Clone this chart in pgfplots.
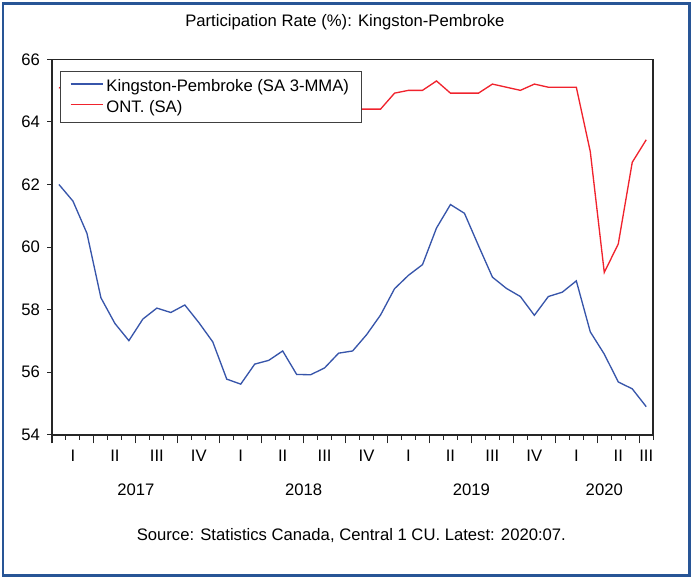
\documentclass[border=0pt]{standalone}
\usepackage{fontspec}
\setmainfont{Liberation Sans}
\usepackage{pgfplots}
\pgfplotsset{compat=1.18}
\pgfplotsset{
    kplegend/.style={
        legend image code/.code={\draw[##1] (0pt,1.8pt) -- (24pt,1.8pt);},
    },
}
\definecolor{kpblue}{RGB}{55,85,170}
\definecolor{ontred}{RGB}{240,35,45}
\definecolor{framebl}{RGB}{40,85,150}
\newcommand\pxf{\fontsize{12.5}{14.5}\selectfont}

% month index 0 = 2017:01 ... 42 = 2020:07
\pgfplotstableread{
m   kp
0   62.00
1   61.47
2   60.44
3   58.38
4   57.56
5   57.01
6   57.70
7   58.05
8   57.91
9   58.15
10  57.59
11  56.97
12  55.78
13  55.62
14  56.26
15  56.38
16  56.68
17  55.93
18  55.92
19  56.14
20  56.61
21  56.68
22  57.20
23  57.83
24  58.67
25  59.10
26  59.44
27  60.61
28  61.36
29  61.08
30  60.05
31  59.04
32  58.68
33  58.42
34  57.82
35  58.42
36  58.56
37  58.92
38  57.29
39  56.58
40  55.69
41  55.47
42  54.90
}\kptab

% months 1-21 sit behind the legend; rough estimates
\pgfplotstableread{
m   ont
0   65.10
1   64.90
2   64.90
3   65.00
4   64.90
5   64.80
6   64.70
7   64.70
8   64.80
9   64.70
10  64.80
11  64.90
12  64.60
13  64.60
14  64.50
15  64.40
16  64.50
17  64.40
18  64.50
19  64.50
20  64.40
21  64.41
22  64.41
23  64.41
24  64.92
25  65.01
26  65.01
27  65.31
28  64.92
29  64.92
30  64.92
31  65.21
32  65.11
33  65.01
34  65.21
35  65.11
36  65.11
37  65.11
38  63.05
39  59.19
40  60.10
41  62.71
42  63.43
}\onttab

\begin{document}
\begin{tikzpicture}
\path (-39pt,-108.75pt) rectangle (479.25pt,326.25pt);
\draw[framebl, line width=1.9pt] (-36.75pt,-105.4pt) rectangle (478.5pt,323.6pt);

\begin{axis}[
    scale only axis,
    width=451.1pt, height=281.7pt,
    xmin=-0.5, xmax=42.5,
    ymin=54, ymax=66,
    clip=false,
    axis line style={line width=1.1pt, black!85},
    tick align=outside,
    tick pos=left,
    major tick length=3.6pt,
    tick style={line width=0.8pt, black!85},
    xtick={-0.5,0.5,...,42.5},
    xticklabels={},
    extra x ticks={-0.5,2.5,...,41.5},
    extra x tick labels={},
    extra x tick style={major tick length=6.5pt},
    ytick={54,56,...,66},
    yticklabel style={font=\pxf, xshift=-2pt},
    /pgf/number format/assume math mode=true,
    kplegend,
    legend style={
        at={(axis description cs:0,1)}, anchor=north west,
        xshift=6.2pt, yshift=-8.4pt,
        draw=black!75, line width=0.6pt, fill=white,
        font=\pxf, inner xsep=7pt, inner ysep=4pt,
        row sep=0pt,
        nodes={inner sep=2.4pt},
        cells={anchor=west},
    },
]
\addplot[kpblue, line width=1pt] table[x=m, y=kp] {\kptab};
\addlegendentry{Kingston-Pembroke (SA 3-MMA)}
\addplot[ontred, line width=1pt] table[x=m, y=ont] {\onttab};
\addlegendentry{ONT. (SA)}

\begin{scope}[every node/.style={anchor=base, font=\pxf}]
\node at (axis cs:1,54)  [yshift=-20.25pt] {I};
\node at (axis cs:4,54)  [yshift=-20.25pt] {II};
\node at (axis cs:7,54)  [yshift=-20.25pt] {III};
\node at (axis cs:10,54) [yshift=-20.25pt] {IV};
\node at (axis cs:13,54) [yshift=-20.25pt] {I};
\node at (axis cs:16,54) [yshift=-20.25pt] {II};
\node at (axis cs:19,54) [yshift=-20.25pt] {III};
\node at (axis cs:22,54) [yshift=-20.25pt] {IV};
\node at (axis cs:25,54) [yshift=-20.25pt] {I};
\node at (axis cs:28,54) [yshift=-20.25pt] {II};
\node at (axis cs:31,54) [yshift=-20.25pt] {III};
\node at (axis cs:34,54) [yshift=-20.25pt] {IV};
\node at (axis cs:37,54) [yshift=-20.25pt] {I};
\node at (axis cs:40,54) [yshift=-20.25pt] {II};
\node at (axis cs:42,54) [yshift=-20.25pt] {III};
\node at (axis cs:5.5,54)  [yshift=-45.75pt] {2017};
\node at (axis cs:17.5,54) [yshift=-45.75pt] {2018};
\node at (axis cs:29.5,54) [yshift=-45.75pt] {2019};
\node at (axis cs:39,54)   [yshift=-45.75pt] {2020};
\end{scope}
\end{axis}

\node[anchor=base, font=\pxf] at (219.75pt,306pt) {Participation Rate (\%): Kingston-Pembroke};
\node[anchor=base, font=\pxf] at (224.6pt,-79.5pt) {Source: Statistics Canada, Central 1 CU. Latest: 2020:07.};
\end{tikzpicture}
\end{document}
